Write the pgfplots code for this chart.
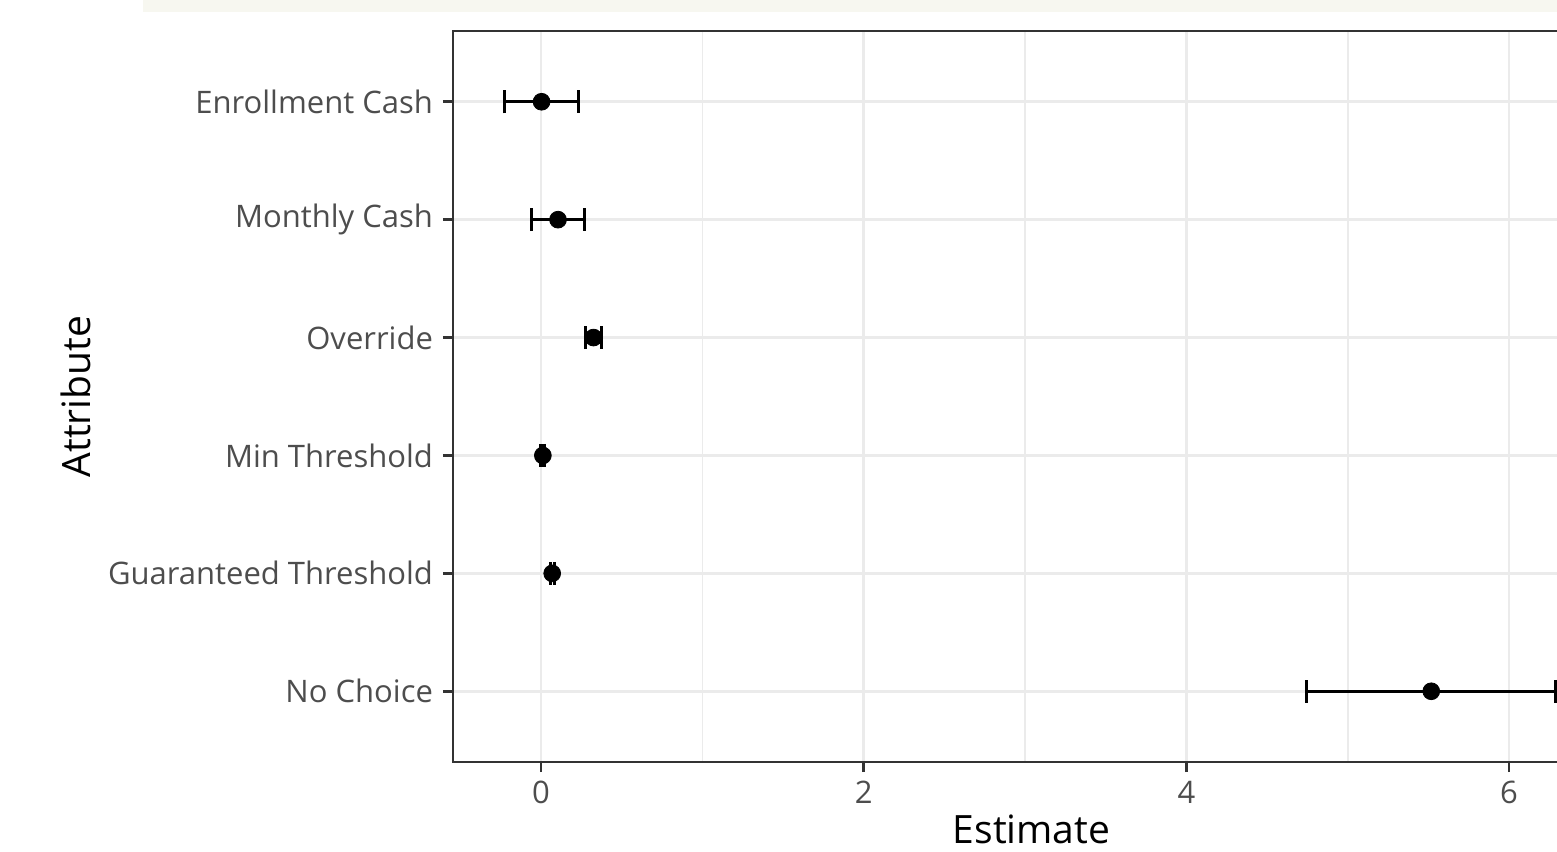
\documentclass[border=0pt]{standalone}
\usepackage{pgfplots}
\pgfplotsset{compat=1.18}
\usepackage{pgfplotstable}
\usepackage{fontspec}
\setmainfont{Open Sans}
\definecolor{gridc}{HTML}{EBEBEB}
\definecolor{axc}{HTML}{333333}
\definecolor{tickc}{HTML}{4D4D4D}
\definecolor{band}{HTML}{F7F7F0}

\pgfplotstableread{
y x e
1 0.003 0.231
2 0.105 0.164
3 0.325 0.048
4 0.011 0.012
5 0.069 0.012
6 5.518 0.771
}\estimates

\begin{document}
\begin{tikzpicture}
\useasboundingbox (-226.5pt,-44.5pt) rectangle (552pt,381pt);
\clip (-226.5pt,-44.5pt) rectangle (552pt,381pt);
\fill[band] (-155pt,375pt) rectangle (560pt,382pt);
\begin{axis}[
  scale only axis,
  width=578.5pt, height=365.5pt,
  xmin=-0.546, xmax=6.626,
  ymin=0.4, ymax=6.6,
  y dir=reverse,
  ytick={1,2,3,4,5,6},
  yticklabels={Enrollment Cash, Monthly Cash, Override, Min Threshold, Guaranteed Threshold, No Choice},
  xtick={0,2,4,6},
  minor xtick={1,3,5},
  grid=both,
  major grid style={gridc, line width=1.4pt},
  minor grid style={gridc, line width=0.8pt},
  axis line style={axc, line width=1pt},
  major tick style={axc, line width=1.3pt},
  major tick length=5pt,
  minor tick length=0pt,
  tick align=outside,
  xtick pos=lower, ytick pos=left,
  /pgf/number format/assume math mode=true,
  ticklabel style={font=\fontsize{15.5}{18}\selectfont, text=tickc},
  yticklabel style={xshift=-1.5pt},
  xticklabel style={yshift=-1pt},
  xlabel={Estimate}, ylabel={Attribute},
  every axis x label/.style={at={(axis description cs:0.5,-0.112)}, anchor=base, font=\fontsize{19.5}{22}\selectfont, text=black},
  every axis y label/.style={at={(axis description cs:-0.3137,0.5)}, rotate=90, anchor=base, font=\fontsize{19.5}{22}\selectfont, text=black},
]
\addplot[black, only marks, mark=*, mark size=4.2pt,
  error bars/.cd, x dir=both, x explicit,
  error bar style={line width=1.5pt},
  error mark options={line width=1.6pt, mark size=5.75pt, rotate=90}]
  table[x=x, y=y, x error=e] {\estimates};
\end{axis}
\end{tikzpicture}
\end{document}
